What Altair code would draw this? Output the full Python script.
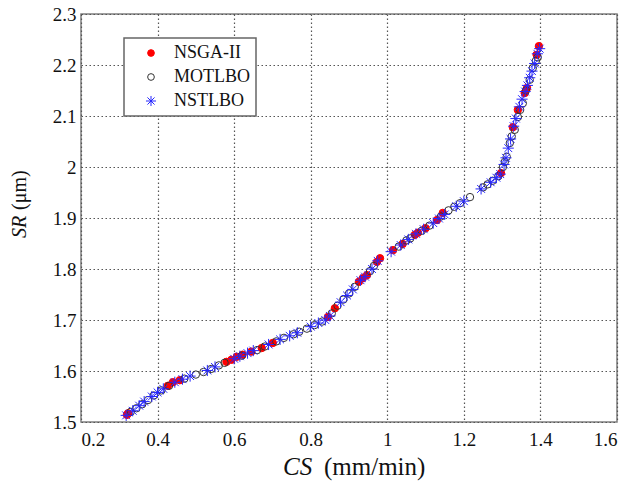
import altair as alt
import pandas as pd

series_names = ["NSGA-II", "MOTLBO", "NSTLBO"]

nsga_x = [0.320, 0.323, 0.427, 0.440, 0.458, 0.580, 0.593, 0.607, 0.622, 0.645,
          0.672, 0.701, 0.845, 0.863, 0.926, 0.936, 0.947, 0.973, 0.981, 1.015,
          1.040, 1.072, 1.080, 1.100, 1.130, 1.145, 1.297, 1.328, 1.341, 1.359,
          1.365, 1.390, 1.396]
nsga_y = [1.514, 1.517, 1.571, 1.578, 1.582, 1.618, 1.622, 1.628, 1.632, 1.638,
          1.645, 1.655, 1.706, 1.723, 1.775, 1.782, 1.788, 1.814, 1.821, 1.837,
          1.849, 1.867, 1.871, 1.880, 1.896, 1.910, 1.988, 2.078, 2.112, 2.145,
          2.155, 2.220, 2.237]

motlbo_x = [0.330, 0.345, 0.360, 0.375, 0.390, 0.410, 0.430, 0.470, 0.500, 0.520,
            0.540, 0.560, 0.575, 0.620, 0.660, 0.680, 0.710, 0.730, 0.755, 0.770,
            0.790, 0.810, 0.830, 0.855, 0.870, 0.885, 0.900, 0.915, 0.955, 0.965,
            1.030, 1.050, 1.060, 1.090, 1.110, 1.140, 1.160, 1.175, 1.190, 1.216,
            1.250, 1.262, 1.275, 1.290, 1.302, 1.307, 1.312, 1.320, 1.325, 1.333,
            1.341, 1.347, 1.354, 1.362, 1.372, 1.380, 1.388, 1.393]
motlbo_y = [1.520, 1.527, 1.535, 1.543, 1.552, 1.562, 1.571, 1.585, 1.593, 1.598,
            1.604, 1.611, 1.616, 1.630, 1.641, 1.648, 1.658, 1.665, 1.672, 1.677,
            1.683, 1.690, 1.697, 1.713, 1.728, 1.740, 1.752, 1.765, 1.796, 1.806,
            1.844, 1.856, 1.860, 1.875, 1.885, 1.903, 1.915, 1.922, 1.929, 1.941,
            1.960, 1.966, 1.973, 1.982, 2.000, 2.010, 2.020, 2.047, 2.060, 2.073,
            2.098, 2.112, 2.125, 2.150, 2.171, 2.194, 2.208, 2.215]

nstlbo_x = [0.318, 0.335, 0.352, 0.365, 0.385, 0.400, 0.415, 0.445, 0.465, 0.485,
            0.530, 0.550, 0.600, 0.615, 0.635, 0.650, 0.690, 0.720, 0.745, 0.765,
            0.800, 0.820, 0.838, 0.850, 0.878, 0.895, 0.910, 0.930, 0.942, 0.960,
            0.975, 1.010, 1.035, 1.055, 1.075, 1.095, 1.120, 1.135, 1.150, 1.180,
            1.200, 1.245, 1.270, 1.285, 1.295, 1.305, 1.310, 1.316, 1.322, 1.330,
            1.336, 1.345, 1.352, 1.360, 1.366, 1.372, 1.378, 1.385, 1.392, 1.398]
nstlbo_y = [1.513, 1.522, 1.532, 1.540, 1.550, 1.558, 1.565, 1.578, 1.584, 1.590,
            1.601, 1.608, 1.624, 1.629, 1.635, 1.640, 1.652, 1.662, 1.669, 1.675,
            1.687, 1.694, 1.700, 1.708, 1.735, 1.748, 1.760, 1.778, 1.785, 1.800,
            1.816, 1.834, 1.847, 1.858, 1.869, 1.878, 1.890, 1.899, 1.907, 1.923,
            1.933, 1.957, 1.970, 1.979, 1.986, 2.005, 2.018, 2.037, 2.055, 2.080,
            2.095, 2.118, 2.133, 2.148, 2.160, 2.175, 2.188, 2.203, 2.222, 2.232]

x_ticks = [0.2, 0.4, 0.6, 0.8, 1.0, 1.2, 1.4, 1.6]
y_ticks = [1.5, 1.6, 1.7, 1.8, 1.9, 2.0, 2.1, 2.2, 2.3]

rows = []
for name, xs, ys in zip(series_names, [nsga_x, motlbo_x, nstlbo_x], [nsga_y, motlbo_y, nstlbo_y]):
    for a, b in zip(xs, ys):
        rows.append({"series": name, "CS": a, "SR": b})
df = pd.DataFrame(rows)

SERIF = "Times New Roman, Liberation Serif, Times, serif"
ASTER = "M-1.5,0L1.5,0M0,-1.5L0,1.5M-1.06,-1.06L1.06,1.06M-1.06,1.06L1.06,-1.06"

leg = dict(title=None, orient="none", legendX=43, legendY=24)

points = alt.Chart(df).mark_point(size=55, strokeWidth=1, opacity=1).encode(
    x=alt.X("CS:Q", scale=alt.Scale(domain=[0.2, 1.6], nice=False),
            axis=alt.Axis(values=x_ticks, format=".1~f", title=None)),
    y=alt.Y("SR:Q", scale=alt.Scale(domain=[1.5, 2.3], nice=False, zero=False),
            axis=alt.Axis(values=y_ticks, format=".1~f", title=None)),
    stroke=alt.Stroke("series:N", scale=alt.Scale(domain=series_names,
                      range=["#ff0000", "#333333", "#2626ff"]), legend=alt.Legend(**leg)),
    fill=alt.Fill("series:N", scale=alt.Scale(domain=series_names,
                  range=["#ff0000", "transparent", "transparent"]), legend=alt.Legend(**leg)),
    shape=alt.Shape("series:N", scale=alt.Scale(domain=series_names,
                    range=["circle", "circle", ASTER]), legend=alt.Legend(**leg)),
)


def label(text, x, y, italic, angle=0, size=24):
    return alt.Chart(alt.Data(values=[{"a": 1}])).mark_text(
        text=text, font=SERIF, fontSize=size,
        fontStyle="italic" if italic else "normal", align="left",
        baseline="alphabetic", angle=angle, color="#111111"
    ).encode(x=alt.value(x), y=alt.value(y))


t1 = label("CS", 202, 461, True, size=25)
t2 = label("(mm/min)", 243, 461, False, size=25)
t3 = label("SR", -55, 224, True, angle=270, size=20)
t4 = label("(\u03bcm)", -55, 196, False, angle=270, size=20)

chart = alt.layer(points, t1, t2, t3, t4).properties(
    width=536, height=408,
    autosize=alt.AutoSizeParams(type="none"),
    padding={"left": 73, "top": 6, "right": 8, "bottom": 60},
    background="white",
).configure_view(
    stroke="#7f7f7f", strokeWidth=1.5
).configure_axis(
    labelFont=SERIF, labelFontSize=19, labelColor="#111111",
    grid=True, gridColor="#555555", gridDash=[1.5, 2.5], gridWidth=1.2,
    domain=False, ticks=False, labelPadding=5,
).configure_axisX(
    labelPadding=8
).configure_legend(
    padding=6, symbolOffset=12, labelOffset=14, labelFont=SERIF,
    labelFontSize=18, labelColor="#111111", rowPadding=6, strokeColor="#666666",
    strokeWidth=1.5, fillColor="white", symbolSize=45, symbolStrokeWidth=1,
)

chart.save("out.html", embed_options={"renderer": "svg", "actions": False})
